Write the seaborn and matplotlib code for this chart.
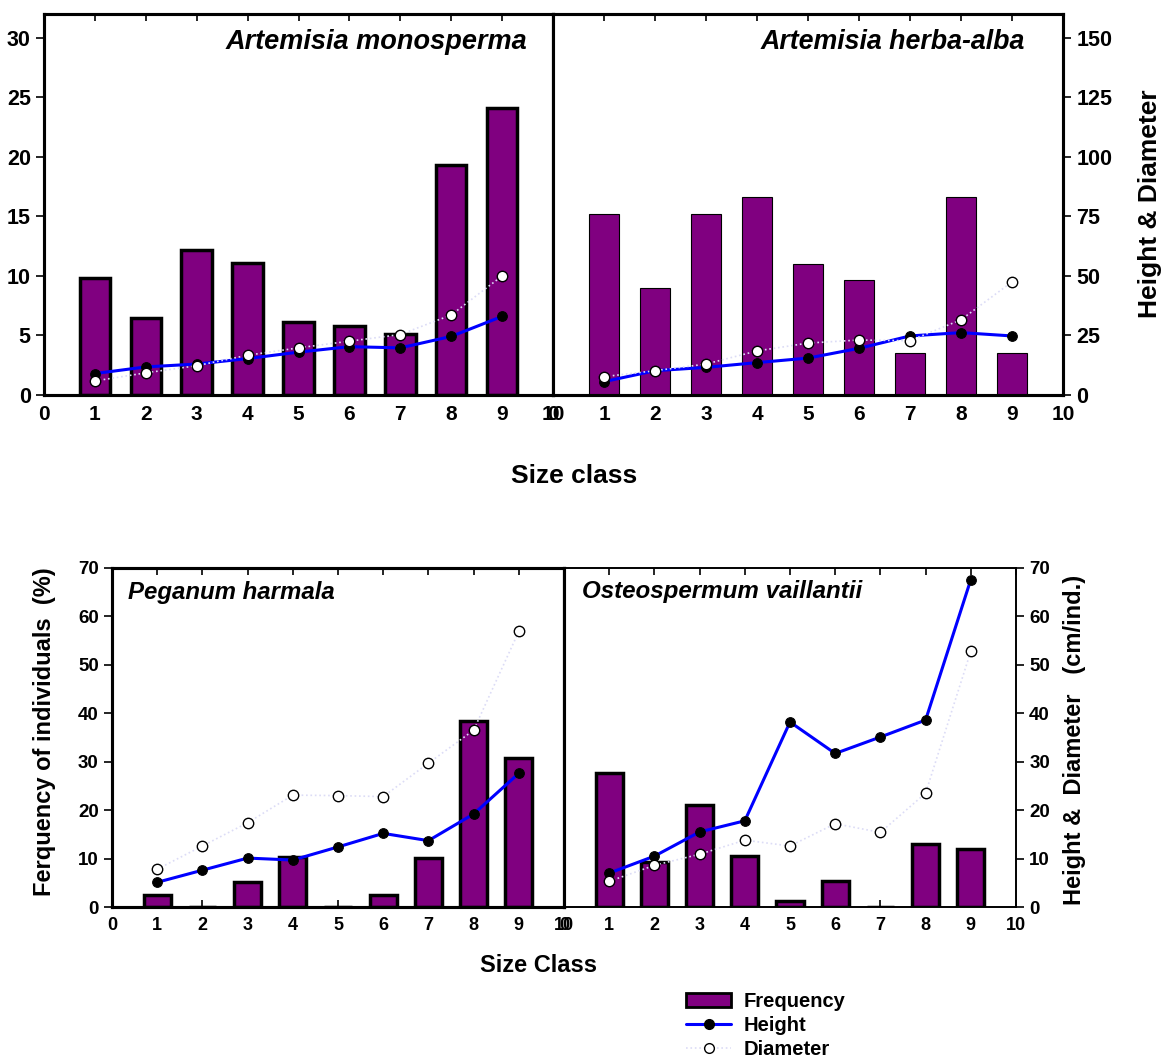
import matplotlib
matplotlib.use("Agg")
import matplotlib.pyplot as plt
from matplotlib.patches import Patch
from matplotlib.lines import Line2D
import seaborn as sns

size_class = [1, 2, 3, 4, 5, 6, 7, 8, 9]
x_ticks = [0, 1, 2, 3, 4, 5, 6, 7, 8, 9, 10]

# Artemisia monosperma (freq on left axis, height/diameter on right axis)
mono_freq = [9.8, 6.5, 12.2, 11.1, 6.1, 5.8, 5.1, 19.3, 24.1]
mono_height = [9.0, 11.8, 13.0, 15.3, 18.0, 20.3, 19.8, 24.6, 33.0]
mono_diam = [5.9, 9.3, 12.3, 16.7, 19.8, 22.6, 25.4, 33.6, 50.0]

# Artemisia herba-alba
alba_freq = [15.2, 9.0, 15.2, 16.6, 11.0, 9.7, 3.5, 16.6, 3.5]
alba_height = [5.6, 10.2, 11.6, 13.6, 15.5, 19.6, 24.8, 26.2, 24.8]
alba_diam = [7.7, 10.2, 13.0, 18.5, 21.8, 23.1, 22.8, 31.6, 47.5]

# Peganum harmala
peg_freq = [2.5, 0, 5.1, 10.3, 0, 2.5, 10.2, 38.5, 30.8]
peg_height = [5.1, 7.6, 10.1, 9.7, 12.4, 15.2, 13.7, 19.2, 27.6]
peg_diam = [7.8, 12.6, 17.4, 23.1, 23.0, 22.8, 29.7, 36.5, 56.9]

# Osteospermum vaillantii
ost_freq = [27.6, 9.3, 21.0, 10.5, 1.3, 5.3, 0, 13.1, 11.9]
ost_height = [7.0, 10.5, 15.5, 17.8, 38.2, 31.7, 35.1, 38.6, 67.6]
ost_diam = [5.3, 8.6, 10.9, 13.8, 12.6, 17.2, 15.4, 23.5, 52.8]

PURPLE = "#800080"
BLUE = "#0000ff"
DOTCOL = "#dcdcf6"

sns.set_style("white")
plt.rcParams["font.family"] = ["Liberation Sans", "DejaVu Sans"]
plt.rcParams["font.weight"] = "bold"
for key in ("text.color", "axes.labelcolor", "xtick.color", "ytick.color"):
    plt.rcParams[key] = "black"

W, H = 1170, 1062
fig = plt.figure(figsize=(W / 100, H / 100), dpi=100)


def px_axes(left, top, right, bottom):
    return fig.add_axes([left / W, 1 - bottom / H, (right - left) / W, (bottom - top) / H])


def draw_panel(ax, freq, height, diam, ylim_bar, ylim_line, bar_lw, tsize):
    sns.barplot(x=size_class, y=freq, native_scale=True, width=0.6, color=PURPLE,
                saturation=1, edgecolor="black", linewidth=bar_lw, ax=ax)
    ax2 = ax.twinx()
    sns.lineplot(x=size_class, y=height, color=BLUE, lw=2.2, marker="o", markersize=7,
                 markerfacecolor="black", markeredgecolor="black", ax=ax2)
    sns.lineplot(x=size_class, y=diam, color=DOTCOL, lw=1.2, linestyle=":", marker="o",
                 markersize=7.5, markerfacecolor="white", markeredgecolor="black",
                 markeredgewidth=1, ax=ax2)
    ax.set_xlim(0, 10)
    ax.set_ylim(*ylim_bar)
    ax2.set_ylim(*ylim_line)
    ax.set_xticks(x_ticks)
    ax.set_xticklabels([str(t) for t in x_ticks])
    ax.tick_params(axis="x", direction="in", top=True, bottom=True, length=5, width=1.2,
                   labelsize=tsize - 0.5, pad=7)
    ax.tick_params(axis="y", direction="out", length=6, width=1.2, labelsize=tsize, left=True)
    ax2.tick_params(axis="y", direction="out", length=6, width=1.2, labelsize=tsize, right=True)
    for a in (ax, ax2):
        a.set_xlabel("")
        a.set_ylabel("")
    return ax2


# top row
ax_tl = px_axes(44, 14, 553, 395)
ax_tl2 = draw_panel(ax_tl, mono_freq, mono_height, mono_diam, (0, 32), (0, 160), 2.5, 15.5)
ax_tl.set_yticks([0, 5, 10, 15, 20, 25, 30])
ax_tl2.tick_params(axis="y", right=False, labelright=False)
ax_tl.text(0.949, 0.926, "Artemisia monosperma", transform=ax_tl.transAxes, ha="right",
           va="center", fontsize=19.5, fontstyle="italic", fontweight="bold")

ax_tr = px_axes(553, 14, 1063, 395)
ax_tr2 = draw_panel(ax_tr, alba_freq, alba_height, alba_diam, (0, 32), (0, 160), 0.8, 15.5)
ax_tr2.set_yticks([0, 25, 50, 75, 100, 125, 150])
ax_tr.tick_params(axis="y", left=False, labelleft=False)
ax_tr.text(0.925, 0.926, "Artemisia herba-alba", transform=ax_tr.transAxes, ha="right",
           va="center", fontsize=19.3, fontstyle="italic", fontweight="bold")

# bottom row
ax_bl = px_axes(112, 568, 564, 907)
ax_bl2 = draw_panel(ax_bl, peg_freq, peg_height, peg_diam, (0, 70), (0, 70), 2.5, 13.5)
ax_bl.set_yticks([0, 10, 20, 30, 40, 50, 60, 70])
ax_bl2.tick_params(axis="y", right=False, labelright=False)
ax_bl.text(0.035, 0.929, "Peganum harmala", transform=ax_bl.transAxes, ha="left",
           va="center", fontsize=17.3, fontstyle="italic", fontweight="bold")

ax_br = px_axes(564, 568, 1016, 907)
ax_br2 = draw_panel(ax_br, ost_freq, ost_height, ost_diam, (0, 70), (0, 70), 2.5, 13.5)
ax_br2.set_yticks([0, 10, 20, 30, 40, 50, 60, 70])
ax_br.tick_params(axis="y", left=False, labelleft=False)
ax_br.text(0.04, 0.932, "Osteospermum vaillantii", transform=ax_br.transAxes, ha="left",
           va="center", fontsize=17.4, fontstyle="italic", fontweight="bold")

# frames
for a in (ax_tl, ax_tl2, ax_tr, ax_tr2, ax_bl, ax_bl2):
    for s in a.spines.values():
        s.set_linewidth(2.2)
        s.set_color("black")
for a in (ax_br, ax_br2):
    for name, s in a.spines.items():
        s.set_color("black")
        s.set_linewidth(2.2 if name == "left" else 1.2)

for a in (ax_tl, ax_tr, ax_bl, ax_br):
    for lab in a.get_xticklabels() + a.get_yticklabels():
        lab.set_fontweight("bold")
for a in (ax_tl2, ax_tr2, ax_bl2, ax_br2):
    for lab in a.get_yticklabels():
        lab.set_fontweight("bold")

# axis titles
fig.text(574 / W, 1 - 476 / H, "Size class", ha="center", va="center", fontsize=19,
         fontweight="bold")
fig.text(538 / W, 1 - 966 / H, "Size Class", ha="center", va="center", fontsize=17,
         fontweight="bold")
fig.text(1150 / W, 1 - 204 / H, "Height & Diameter", ha="center", va="center",
         rotation=90, fontsize=19, fontweight="bold")
fig.text(45 / W, 1 - 732 / H, "Ferquency of individuals  (%)", ha="center", va="center",
         rotation=90, fontsize=17, fontweight="bold")
fig.text(1075 / W, 1 - 740 / H, "Height &  Diameter   (cm/ind.)", ha="center",
         va="center", rotation=90, fontsize=17, fontweight="bold")

handles = [
    Patch(facecolor=PURPLE, edgecolor="black", linewidth=2),
    Line2D([], [], color=BLUE, lw=2.2, marker="o", markersize=7,
           markerfacecolor="black", markeredgecolor="black"),
    Line2D([], [], color=DOTCOL, lw=1.2, linestyle=":", marker="o", markersize=7,
           markerfacecolor="white", markeredgecolor="black"),
]
fig.legend(handles, ["Frequency", "Height", "Diameter"], loc="upper left",
           bbox_to_anchor=(678 / W, 1 - 984 / H), frameon=False,
           prop={"weight": "bold", "size": 14.5}, handlelength=2.25,
           labelspacing=0.25, borderaxespad=0, handletextpad=0.6)

fig.savefig("out.png", dpi=100)
